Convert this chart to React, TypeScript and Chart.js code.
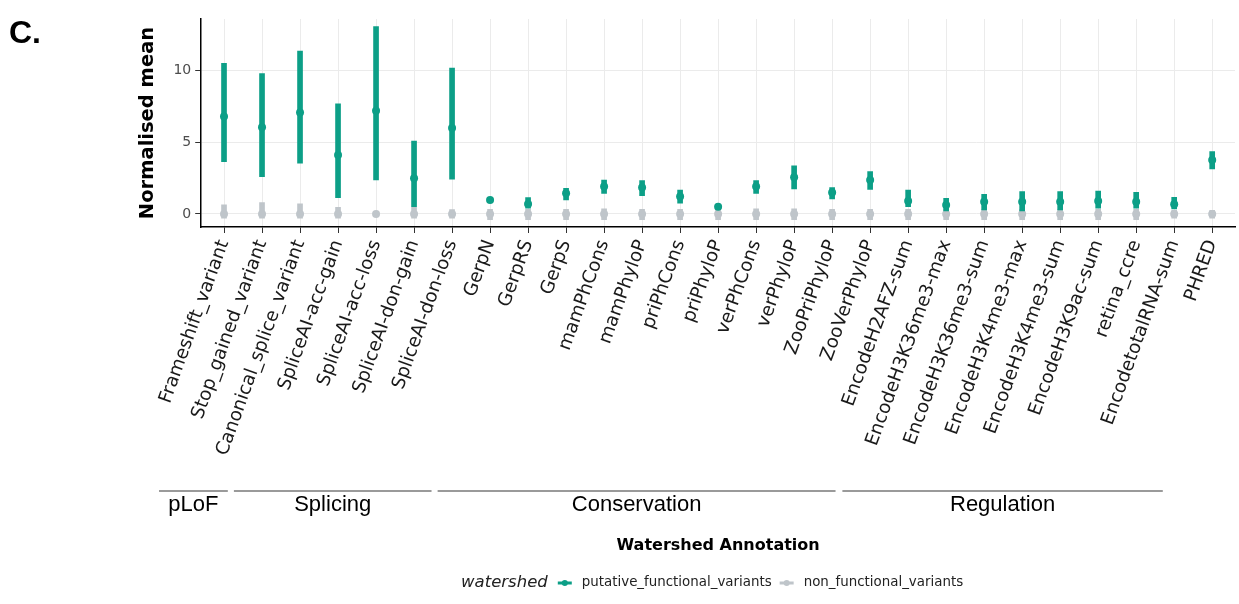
import React, { useEffect, useRef } from "react";
import { Chart, registerables } from "chart.js";

Chart.register(...registerables);

// ---------- data ----------
const categories = [
  "Frameshift_variant",
  "Stop_gained_variant",
  "Canonical_splice_variant",
  "SpliceAI-acc-gain",
  "SpliceAI-acc-loss",
  "SpliceAI-don-gain",
  "SpliceAI-don-loss",
  "GerpN",
  "GerpRS",
  "GerpS",
  "mamPhCons",
  "mamPhyloP",
  "priPhCons",
  "priPhyloP",
  "verPhCons",
  "verPhyloP",
  "ZooPriPhyloP",
  "ZooVerPhyloP",
  "EncodeH2AFZ-sum",
  "EncodeH3K36me3-max",
  "EncodeH3K36me3-sum",
  "EncodeH3K4me3-max",
  "EncodeH3K4me3-sum",
  "EncodeH3K9ac-sum",
  "retina_ccre",
  "EncodetotalRNA-sum",
  "PHRED",
];

const putativeMean = [6.8, 6.05, 7.07, 4.12, 7.2, 2.49, 6.0, 0.98, 0.7, 1.44, 1.91, 1.84, 1.21, 0.51, 1.91, 2.56, 1.49, 2.37, 0.91, 0.63, 0.86, 0.86, 0.86, 0.91, 0.86, 0.68, 3.77];
const putativeLow = [3.65, 2.6, 3.54, 1.14, 2.37, 0.51, 2.42, 0.9, 0.4, 0.98, 1.44, 1.28, 0.75, 0.45, 1.44, 1.74, 1.05, 1.72, 0.51, 0.21, 0.28, 0.21, 0.28, 0.4, 0.4, 0.35, 3.14];
const putativeHigh = [10.5, 9.8, 11.37, 7.68, 13.07, 5.09, 10.17, 1.06, 1.14, 1.79, 2.37, 2.33, 1.67, 0.58, 2.33, 3.35, 1.84, 2.95, 1.67, 1.09, 1.37, 1.56, 1.56, 1.6, 1.51, 1.16, 4.35];

const nonFunctionalMean = [0, 0, 0, 0, 0, 0, 0, 0, 0, 0, 0, 0, 0, 0, 0, 0, 0, 0, 0, 0, 0, 0, 0, 0, 0, 0, 0];
const nonFunctionalLow = [-0.3, -0.3, -0.3, -0.3, -0.15, -0.3, -0.3, -0.4, -0.4, -0.4, -0.4, -0.4, -0.4, -0.4, -0.4, -0.4, -0.4, -0.4, -0.4, -0.4, -0.4, -0.4, -0.4, -0.4, -0.4, -0.3, -0.3];
const nonFunctionalHigh = [0.63, 0.79, 0.7, 0.47, 0.15, 0.47, 0.3, 0.33, 0.33, 0.33, 0.35, 0.33, 0.33, 0.33, 0.35, 0.35, 0.33, 0.33, 0.33, 0.33, 0.33, 0.33, 0.33, 0.33, 0.33, 0.25, 0.25];

const yTickValues = [0, 5, 10];

const groupNames = ["pLoF", "Splicing", "Conservation", "Regulation"];
// group spans, in category-index units
const groupFrom = [-1.71, 0.26, 5.62, 16.27];
const groupTo = [0.1, 5.46, 16.09, 24.7];

const seriesNames = ["putative_functional_variants", "non_functional_variants"];
const legendTitle = "watershed";

// ---------- styles ----------
const GREEN = "#0c9f87";
const GREY = "#bfc5ca";
const seriesColors = [GREEN, GREY];
const FONT = "'DejaVu Sans', Verdana, sans-serif";
const ARIAL = "'Liberation Sans', Arial, sans-serif";

const annotPlugin = {
  id: "annot",
  afterDraw(chart: any) {
    const ctx: CanvasRenderingContext2D = chart.ctx;
    const xs = chart.scales.x;
    const area = chart.chartArea;
    ctx.save();

    // panel tag
    ctx.fillStyle = "#000";
    ctx.font = `bold 32px ${ARIAL}`;
    ctx.textAlign = "left";
    ctx.textBaseline = "alphabetic";
    ctx.fillText("C.", 9, 43);

    // group annotation
    groupNames.forEach((g, i) => {
      const a = xs.getPixelForValue(groupFrom[i]);
      const b = xs.getPixelForValue(groupTo[i]);
      ctx.strokeStyle = "#9a9a9a";
      ctx.lineWidth = 2;
      ctx.beginPath();
      ctx.moveTo(a, 491);
      ctx.lineTo(b, 491);
      ctx.stroke();
      ctx.fillStyle = "#000";
      ctx.font = `22px ${ARIAL}`;
      ctx.textAlign = "center";
      ctx.textBaseline = "middle";
      ctx.fillText(g, (a + b) / 2, 505);
    });

    // legend
    const ly = 583;
    ctx.font = `italic 16.5px ${FONT}`;
    const titleW = ctx.measureText(legendTitle).width;
    ctx.font = `13.4px ${FONT}`;
    const lw = seriesNames.map((n) => ctx.measureText(n).width);
    const iconW = 14;
    const gT = 10, gI = 10, gS = 8;
    const total = titleW + gT + (iconW + gI) * 2 + lw[0] + gS + lw[1];
    let cx = (area.left + area.right) / 2 - 6 - total / 2;
    ctx.textAlign = "left";
    ctx.textBaseline = "middle";
    ctx.fillStyle = "#222";
    ctx.font = `italic 16.5px ${FONT}`;
    ctx.fillText(legendTitle, cx, ly);
    cx += titleW + gT;
    seriesNames.forEach((n, i) => {
      ctx.strokeStyle = seriesColors[i];
      ctx.fillStyle = seriesColors[i];
      ctx.lineWidth = 3;
      ctx.beginPath();
      ctx.moveTo(cx, ly);
      ctx.lineTo(cx + iconW, ly);
      ctx.stroke();
      ctx.beginPath();
      ctx.arc(cx + iconW / 2, ly, 3, 0, Math.PI * 2);
      ctx.fill();
      cx += iconW + gI;
      ctx.fillStyle = "#222";
      ctx.font = `13.4px ${FONT}`;
      ctx.fillText(n, cx, ly);
      cx += lw[i] + gS;
    });
    ctx.restore();
  },
};

export default function App() {
  const ref = useRef<HTMLCanvasElement>(null);
  useEffect(() => {
    const idx = categories.map((_, i) => i);
    const chart = new Chart(ref.current as HTMLCanvasElement, {
      type: "bar",
      data: {
        datasets: [
          {
            type: "line",
            label: seriesNames[0] + " mean",
            data: idx.map((i) => ({ x: i, y: putativeMean[i] })),
            showLine: false,
            pointRadius: 4,
            pointBorderWidth: 0,
            pointBackgroundColor: GREEN,
            borderColor: GREEN,
            order: 0,
          } as any,
          {
            type: "bar",
            label: seriesNames[0],
            data: idx.map((i) => ({ x: i, y: [putativeLow[i], putativeHigh[i]] })),
            backgroundColor: GREEN,
            barThickness: 5,
            grouped: false,
            order: 1,
          } as any,
          {
            type: "line",
            label: seriesNames[1] + " mean",
            data: idx.map((i) => ({ x: i, y: nonFunctionalMean[i] })),
            showLine: false,
            pointRadius: 4,
            pointBorderWidth: 0,
            pointBackgroundColor: GREY,
            borderColor: GREY,
            order: 2,
          } as any,
          {
            type: "bar",
            label: seriesNames[1],
            data: idx.map((i) => ({ x: i, y: [nonFunctionalLow[i], nonFunctionalHigh[i]] })),
            backgroundColor: GREY,
            barThickness: 5,
            grouped: false,
            order: 3,
          } as any,
        ],
      },
      options: {
        responsive: false,
        animation: false,
        events: [],
        layout: { padding: { left: 136, right: 3, top: 19, bottom: 0 } },
        plugins: { legend: { display: false }, tooltip: { enabled: false } },
        scales: {
          x: {
            type: "linear",
            offset: false,
            min: -0.6,
            max: categories.length - 1 + 0.6,
            afterBuildTicks: (s: any) => {
              s.ticks = categories.map((_, i) => ({ value: i }));
            },
            afterFit: (s: any) => {
              s.height = 377;
            },
            grid: { offset: false, color: "#ebebeb", lineWidth: 1, tickColor: "#333", tickLength: 6 },
            border: { display: true, color: "#000", width: 1.5 },
            ticks: {
              autoSkip: false,
              maxRotation: 70,
              minRotation: 70,
              padding: 4,
              color: "#1a1a1a",
              font: { family: FONT, size: 18.5 },
              callback: (v: any) => categories[v],
            },
            title: {
              display: true,
              text: "Watershed Annotation",
              color: "#000",
              font: { family: FONT, size: 16, weight: "bold" },
              padding: { top: 0, bottom: 49 },
            },
          },
          y: {
            type: "linear",
            min: -0.91,
            max: 13.6,
            afterBuildTicks: (s: any) => {
              s.ticks = yTickValues.map((v) => ({ value: v }));
            },
            grid: { color: "#ebebeb", lineWidth: 1, tickColor: "#333", tickLength: 6 },
            border: { display: true, color: "#000", width: 1.5 },
            ticks: {
              padding: 4,
              color: "#4d4d4d",
              font: { family: FONT, size: 14 },
            },
            title: {
              display: true,
              text: "Normalised mean",
              color: "#000",
              font: { family: FONT, size: 19.5, weight: "bold" },
              padding: { top: 0, bottom: 10 },
            },
          },
        },
      } as any,
      plugins: [annotPlugin],
    });
    return () => chart.destroy();
  }, []);
  return (
    <div style={{ position: "fixed", left: 0, top: 0, width: 1239, height: 604, background: "#fff" }}>
      <canvas ref={ref} width={1239} height={604} style={{ display: "block", width: 1239, height: 604 }} />
    </div>
  );
}
